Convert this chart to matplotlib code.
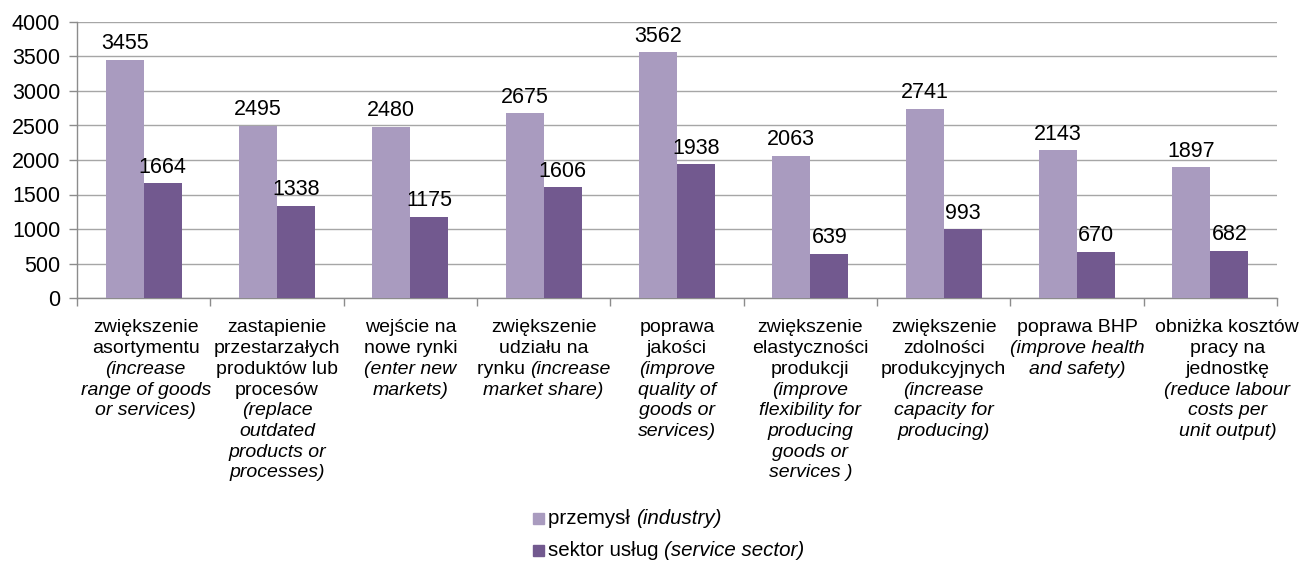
import matplotlib
matplotlib.use("Agg")
import matplotlib.pyplot as plt
import numpy as np

plt.rcParams['font.family'] = ['Liberation Sans', 'DejaVu Sans']

# Values per category: industry vs service sector
industry = [3455, 2495, 2480, 2675, 3562, 2063, 2741, 2143, 1897]
services = [1664, 1338, 1175, 1606, 1938, 639, 993, 670, 682]

# Category labels: each line is a list of (text, italic) segments
category_labels = [
    [[("zwiększenie", False)], [("asortymentu", False)], [("(increase", True)],
     [("range of goods", True)], [("or services)", True)]],
    [[("zastapienie", False)], [("przestarzałych", False)], [("produktów lub", False)],
     [("procesów", False)], [("(replace", True)], [("outdated", True)],
     [("products or", True)], [("processes)", True)]],
    [[("wejście na", False)], [("nowe rynki", False)], [("(enter new", True)],
     [("markets)", True)]],
    [[("zwiększenie", False)], [("udziału na", False)],
     [("rynku ", False), ("(increase", True)], [("market share)", True)]],
    [[("poprawa", False)], [("jakości", False)], [("(improve", True)],
     [("quality of", True)], [("goods or", True)], [("services)", True)]],
    [[("zwiększenie", False)], [("elastyczności", False)], [("produkcji", False)],
     [("(improve", True)], [("flexibility for", True)], [("producing", True)],
     [("goods or", True)], [("services )", True)]],
    [[("zwiększenie", False)], [("zdolności", False)], [("produkcyjnych", False)],
     [("(increase", True)], [("capacity for", True)], [("producing)", True)]],
    [[("poprawa BHP", False)], [("(improve health", True)], [("and safety)", True)]],
    [[("obniżka kosztów", False)], [("pracy na", False)], [("jednostkę", False)],
     [("(reduce labour", True)], [("costs per", True)], [("unit output)", True)]],
]

legend_labels = [
    [("przemysł ", False), ("(industry)", True)],
    [("sektor usług ", False), ("(service sector)", True)],
]

yticks = [0, 500, 1000, 1500, 2000, 2500, 3000, 3500, 4000]

c_light = "#A99BBF"
c_dark = "#72598F"
grid_c = "#A6A6A6"
axis_c = "#8C8C8C"

W, H = 1309, 562
fig = plt.figure(figsize=(W / 100, H / 100), dpi=100)
ax = fig.add_axes([77 / W, 1 - 298 / H, (1277 - 77) / W, (298 - 22) / H])

n = len(industry)
x = np.arange(n)
bw = 0.285
b1 = ax.bar(x - bw / 2, industry, bw, color=c_light, zorder=3)
b2 = ax.bar(x + bw / 2, services, bw, color=c_dark, zorder=3)

num_fs = 15.5
lab_fs = 14.0
leg_fs = 14.8
for bars, vals in ((b1, industry), (b2, services)):
    for rect, v in zip(bars, vals):
        ax.annotate(str(v), (rect.get_x() + rect.get_width() / 2, v),
                    xytext=(0, 4), textcoords="offset points",
                    ha="center", va="bottom", fontsize=num_fs, color="black", zorder=4)

ax.set_xlim(-0.5, n - 0.5)
ax.set_ylim(0, 4000)
ax.set_yticks(yticks)
ax.set_yticklabels([str(t) for t in yticks], fontsize=num_fs)
ax.yaxis.grid(True, color=grid_c, linewidth=1.0, zorder=0)
ax.set_xticks(np.arange(n + 1) - 0.5)
ax.set_xticklabels([])
ax.tick_params(axis="x", length=6, color=axis_c, width=1)
ax.tick_params(axis="y", length=6, color=axis_c, width=1, pad=6)
for s in ("top", "right"):
    ax.spines[s].set_visible(False)
for s in ("left", "bottom"):
    ax.spines[s].set_color(axis_c)
    ax.spines[s].set_linewidth(1.0)

renderer = fig.canvas.get_renderer()


def draw_line(cx_px, cy_px, segments, size=lab_fs, ha="center"):
    """Draw a line of mixed-style text, centred (or left-aligned) at pixel coords."""
    texts = []
    widths = []
    for s, it in segments:
        t = fig.text(0, 0, s, fontsize=size, style="italic" if it else "normal",
                     ha="left", va="center", transform=None)
        w = t.get_window_extent(renderer).width
        texts.append(t)
        widths.append(w)
    total = sum(widths)
    start = cx_px - total / 2 if ha == "center" else cx_px
    for t, w in zip(texts, widths):
        t.set_position((start, H - cy_px))
        start += w


line_h = 20.7
# the last label is nudged right so it clears its neighbour
label_shift_px = [2, 0, 0, 0, 0, 0, 0, 0, 17]
for i, lines in enumerate(category_labels):
    cx = ax.transData.transform((i, 0))[0] + label_shift_px[i]
    for j, segs in enumerate(lines):
        draw_line(cx, 328 + j * line_h, segs)

# Legend, stacked vertically below the labels
for k, (col, segs) in enumerate(zip((c_light, c_dark), legend_labels)):
    ly = 519 + k * 32
    fig.patches.append(plt.Rectangle((533 / W, 1 - (ly + 5) / H), 11 / W, 11 / H,
                                     transform=fig.transFigure, color=col, figure=fig))
    draw_line(548, ly, segs, size=leg_fs, ha="left")

fig.savefig("out.png", dpi=100)
